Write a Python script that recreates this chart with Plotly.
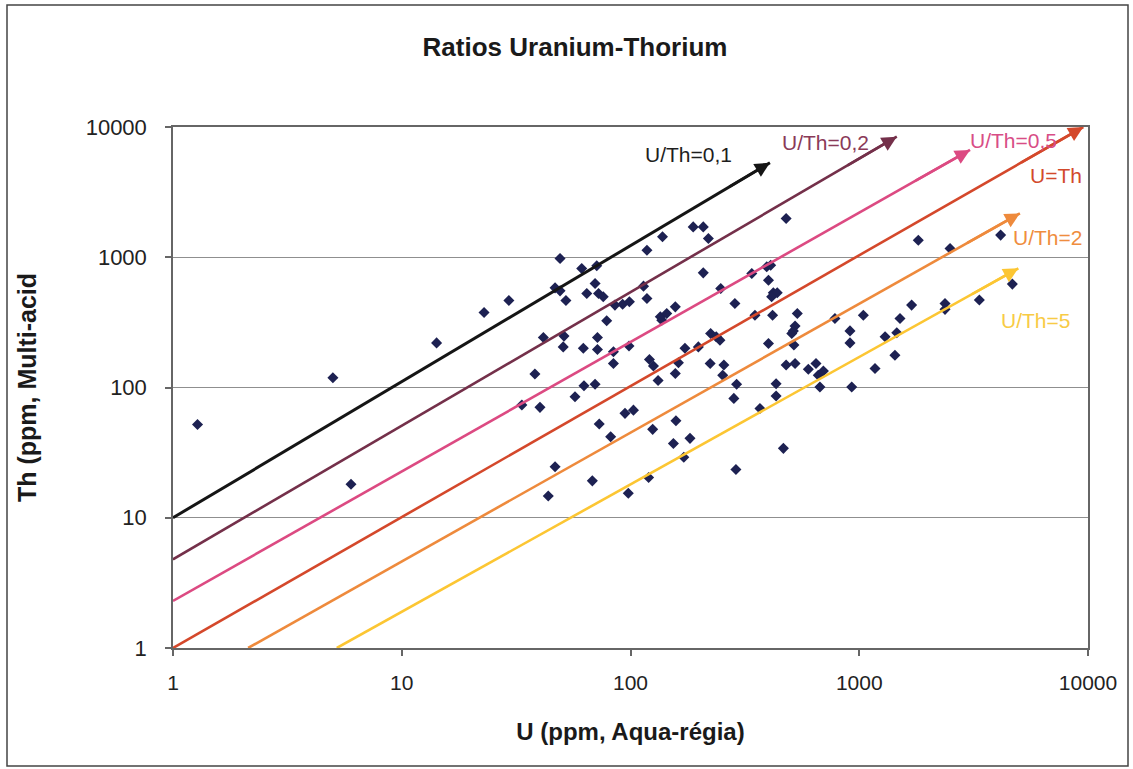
import math
import plotly.graph_objects as go

# ---------------- data ----------------
u_ppm = [1.28, 5.0, 6.0, 14.2, 22.9, 29.4, 38.2, 41.6, 46.8, 49.2, 49.2, 52.2, 51.2, 50.8,
         61.2, 71.2, 64.4, 70, 72.5, 76, 78.7, 85.5, 62.2, 71.7, 71.7, 84.2, 84.2, 62.6, 70, 57.2,
         92.4, 98.9, 114, 118, 118, 138, 188, 208, 219, 208, 135, 144, 157, 137, 248, 286, 339,
         394, 401, 350, 401, 98.5, 33.5, 40.2, 121, 126, 157, 132, 162, 173, 198, 224, 246, 237,
         223, 256, 253, 291, 283, 368, 94.6, 103, 73, 81.9, 125, 158, 154, 182, 171, 46.8, 68.1,
         120, 289, 43.7, 97.8,
         479, 1812, 2494, 4150, 410, 421, 438, 414, 418, 536, 524, 515, 507, 518, 433, 433, 479,
         524, 599, 647, 662, 673, 697, 783, 911, 911, 927, 1042, 1172, 1297, 1459, 1507, 1432,
         1694, 2371, 2371, 3350, 4670, 466]
th_ppm = [52, 119, 18.1, 220, 377, 466, 127, 242, 582, 979, 552, 466, 248, 205,
          820, 860, 527, 629, 527, 497, 325, 429, 200, 242, 196, 188, 153, 103, 106, 85,
          436, 455, 600, 1133, 483, 1435, 1710, 1710, 1393, 759, 349, 370, 416, 329, 576, 442, 751,
          844, 667, 359, 218, 208, 73.3, 70.4, 164, 146, 128, 113, 155, 200, 205, 260, 231, 245,
          153, 149, 124, 106, 82.5, 69, 63.3, 67, 52.4, 41.9, 47.7, 55.6, 37.2, 40.7, 29.1, 24.6, 19.2,
          20.4, 23.5, 14.7, 15.4,
          1986, 1352, 1167, 1479, 869, 533, 533, 497, 359, 370, 296, 272, 260, 212, 107, 86, 149,
          153, 138, 153, 124, 101, 134, 339, 272, 220, 101, 359, 140, 245, 263, 339, 177,
          429, 442, 398, 469, 622, 34.1]

# reference ratio lines (hand-drawn arrows in the original): start and end points
ratio_labels = ["U/Th=0,1", "U/Th=0,2", "U/Th=0,5", "U=Th", "U/Th=2", "U/Th=5"]
line_u_start = [1, 1, 1, 1, 2.13, 5.2]
line_th_start = [10, 4.8, 2.3, 1, 1, 1]
line_u_end = [407, 1459, 3050, 9540, 5040, 4960]
line_th_end = [5320, 8430, 6660, 10000, 2175, 822]
line_colors = ["#151515", "#74304a", "#dc4a82", "#d4482b", "#ee8a3c", "#fcc633"]
label_colors = ["#1e1e1e", "#8a3a58", "#d84d86", "#d2492c", "#ef8d3e", "#f8cb45"]

x_ticks = [1, 10, 100, 1000, 10000]
y_ticks = [1, 10, 100, 1000, 10000]

FONT = "Liberation Sans, Arial, sans-serif"

fig = go.Figure()

fig.add_trace(go.Scatter(
    x=u_ppm, y=th_ppm, mode="markers", name="samples",
    marker=dict(symbol="diamond", size=8.5, color="#1d2152", line=dict(width=0)),
    showlegend=False,
))

annotations = []
for i, lab in enumerate(ratio_labels):
    fig.add_trace(go.Scatter(
        x=[line_u_start[i], line_u_end[i]], y=[line_th_start[i], line_th_end[i]],
        mode="lines", name=lab, showlegend=False,
        line=dict(color=line_colors[i], width=3 if i == 0 else 2.6),
        cliponaxis=False,
    ))
    # arrowhead at the end of each line
    x0, y0 = math.log10(line_u_start[i]), math.log10(line_th_start[i])
    x1, y1 = math.log10(line_u_end[i]), math.log10(line_th_end[i])
    f = 0.93
    annotations.append(dict(
        x=x1, y=y1, ax=x0 + f * (x1 - x0), ay=y0 + f * (y1 - y0),
        xref="x", yref="y", axref="x", ayref="y", text="",
        showarrow=True, arrowhead=2, arrowsize=1.15, arrowwidth=2.6,
        arrowcolor=line_colors[i], standoff=0,
    ))

# line labels (placed in paper coordinates)
W, L, H, T = 915.0, 173.0, 521.0, 127.0
def px(xp, yp):
    return (xp - L) / W, (T + H - yp) / H

label_pos = [(688, 154), (825, 143), (1013, 141), (1056, 175), (1047, 237), (1035, 320)]
for i, lab in enumerate(ratio_labels):
    xx, yy = px(*label_pos[i])
    annotations.append(dict(
        x=xx, y=yy, xref="paper", yref="paper", text=lab, showarrow=False,
        xanchor="center", yanchor="middle",
        font=dict(family=FONT, size=21, color=label_colors[i]),
    ))

bx0, by1 = px(7, 5)
bx1, by0 = px(1128, 766)

fig.update_layout(
    width=1133, height=769,
    margin=dict(l=173, r=45, t=127, b=121),
    paper_bgcolor="white", plot_bgcolor="white",
    font=dict(family=FONT, size=21, color="#222222"),
    title=dict(text="<b>Ratios Uranium-Thorium</b>", x=575 / 1133, xref="container", xanchor="center",
               y=1 - 47 / 769, yref="container", yanchor="middle",
               font=dict(family=FONT, size=26, color="#1a1a1a")),
    annotations=annotations,
    shapes=[dict(type="rect", xref="paper", yref="paper", x0=bx0, x1=bx1, y0=by0, y1=by1,
                 line=dict(color="#444444", width=1.5), layer="below")],
    showlegend=False,
)

fig.update_xaxes(
    type="log", range=[0, 4], tickvals=x_ticks, ticktext=[str(v) for v in x_ticks],
    showgrid=False, zeroline=False,
    showline=True, linecolor="#666666", linewidth=1.5, mirror=True,
    ticks="outside", ticklen=6, tickcolor="#666666", tickwidth=1.5,
    tickfont=dict(family=FONT, size=21, color="#222222"), ticklabelstandoff=9,
    title=dict(text="<b>U (ppm, Aqua-régia)</b>", standoff=30,
               font=dict(family=FONT, size=24, color="#1a1a1a")),
)
fig.update_yaxes(
    type="log", range=[0, 4], tickvals=y_ticks, ticktext=[str(v) for v in y_ticks],
    showgrid=True, gridcolor="#8f8f8f", gridwidth=1, zeroline=False,
    showline=True, linecolor="#666666", linewidth=1.5, mirror=True,
    ticks="outside", ticklen=6, tickcolor="#666666", tickwidth=1.5,
    tickfont=dict(family=FONT, size=22, color="#222222"), ticklabelstandoff=14,
    title=dict(text="<b>Th (ppm, Multi-acid</b>", standoff=42,
               font=dict(family=FONT, size=25, color="#1a1a1a")),
)

fig.write_html("out.html")
